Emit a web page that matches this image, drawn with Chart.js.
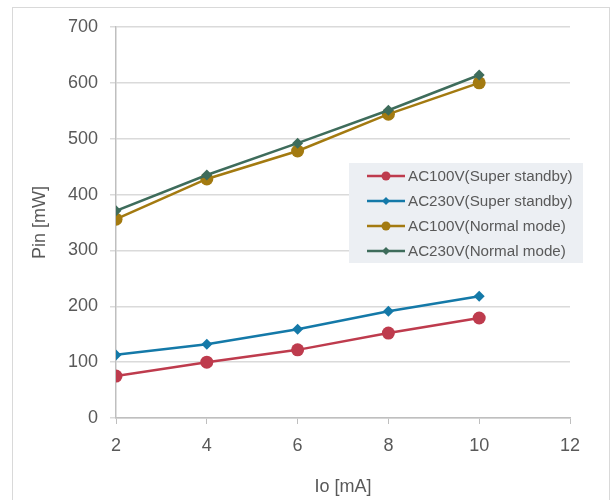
<!DOCTYPE html>
<html>
<head>
<meta charset="utf-8">
<script src="https://cdn.jsdelivr.net/npm/chart.js@4/dist/chart.umd.min.js"></script>
<style>
  html, body { margin: 0; padding: 0; background: #fff; }
  #wrap { position: relative; width: 614px; height: 500px; overflow: hidden; }
  #frame { position: absolute; left: 12px; top: 7px; width: 598px; height: 500px;
           border: 1px solid #d9d9d9; box-sizing: border-box; pointer-events: none; }
  #legend { position: absolute; left: 349px; top: 163px; width: 234px; height: 100px;
            background: #eceff3; box-sizing: border-box; padding-top: 0px;
            font-family: "Liberation Sans", Arial, sans-serif; font-size: 15.2px; color: #595959; }
  .row { height: 25px; display: flex; align-items: center; }
  .row canvas { margin-left: 18px; margin-right: 3px; }
</style>
</head>
<body>
<div id="wrap">
  <canvas id="c" width="614" height="500"></canvas>
  <div id="frame"></div>
  <div id="legend"></div>
</div>
<script>
// Output current (mA) on the horizontal axis
const currentMA = [2, 4, 6, 8, 10];

// Input power (mW) per operating condition
const ac100Standby = [75, 100, 122, 152, 179];
const ac230Standby = [113, 132, 159, 191, 218];
const ac100Normal  = [356, 428, 478, 544, 600];
const ac230Normal  = [371, 435, 492, 551, 614];

const seriesNames = [
  'AC100V(Super standby)',
  'AC230V(Super standby)',
  'AC100V(Normal mode)',
  'AC230V(Normal mode)'
];

const xTicks = [2, 4, 6, 8, 10, 12];
const yTicks = [0, 100, 200, 300, 400, 500, 600, 700];

const colors = ['#be3b4d', '#1479a8', '#a37a10', '#3e6c5b'];
const markers = ['circle', 'rectRot', 'circle', 'rectRot'];
const radii = [6.5, 5.5, 6.5, 5.5];

function toPoints(vals) {
  return currentMA.map((x, i) => ({ x: x, y: vals[i] }));
}

const allSeries = [ac100Standby, ac230Standby, ac100Normal, ac230Normal];

const datasets = allSeries.map((vals, i) => ({
  label: seriesNames[i],
  data: toPoints(vals),
  borderColor: colors[i],
  backgroundColor: colors[i],
  borderWidth: 2.5,
  pointStyle: markers[i],
  pointRadius: radii[i],
  pointBorderWidth: 0,
  pointHoverRadius: radii[i],
  tension: 0,
  order: i === 2 ? 1 : (i === 3 ? 0 : 2)
}));

const tickFont = { family: '"Liberation Sans", Arial, sans-serif', size: 18 };
const gray = '#595959';

const chart = new Chart(document.getElementById('c'), {
  type: 'line',
  data: { datasets: datasets },
  options: {
    responsive: false,
    animation: false,
    events: [],
    layout: { padding: { left: 29, right: 44, top: 27, bottom: 0 } },
    plugins: { legend: { display: false }, tooltip: { enabled: false } },
    scales: {
      x: {
        type: 'linear',
        min: 2, max: 12,
        afterBuildTicks: (s) => { s.ticks = xTicks.map(v => ({ value: v })); },
        afterFit: (s) => { s.height = 82; },
        grid: { drawOnChartArea: false, drawTicks: true, tickLength: 6, color: '#bfbfbf' },
        border: { color: '#bfbfbf', width: 1.5 },
        ticks: { color: gray, font: tickFont, padding: 11, maxRotation: 0 },
        title: { display: true, text: 'Io [mA]', color: gray, font: tickFont, padding: { top: 10, bottom: 2 } }
      },
      y: {
        type: 'linear',
        min: 0, max: 700,
        afterBuildTicks: (s) => { s.ticks = yTicks.map(v => ({ value: v })); },
        afterFit: (s) => { s.width = 87; },
        grid: { color: '#dadada', lineWidth: 1.5, drawTicks: true, tickLength: 6 },
        border: { color: '#bfbfbf', width: 1.5 },
        ticks: { color: gray, font: tickFont, padding: 12 },
        title: { display: true, text: 'Pin [mW]', color: gray, font: tickFont, padding: { top: 0, bottom: 4 } }
      }
    }
  }
});

// Legend panel built from the chart's own datasets
const legend = document.getElementById('legend');
chart.data.datasets.forEach((ds) => {
  const row = document.createElement('div');
  row.className = 'row';
  const sw = document.createElement('canvas');
  sw.width = 38; sw.height = 14;
  const g = sw.getContext('2d');
  g.strokeStyle = ds.borderColor; g.lineWidth = 2.5;
  g.beginPath(); g.moveTo(0, 7); g.lineTo(38, 7); g.stroke();
  g.fillStyle = ds.backgroundColor;
  if (ds.pointStyle === 'circle') {
    g.beginPath(); g.arc(19, 7, 4.5, 0, Math.PI * 2); g.fill();
  } else {
    g.beginPath(); g.moveTo(19, 3); g.lineTo(23, 7); g.lineTo(19, 11); g.lineTo(15, 7); g.closePath(); g.fill();
  }
  const txt = document.createElement('span');
  txt.textContent = ds.label;
  row.appendChild(sw); row.appendChild(txt);
  legend.appendChild(row);
});
</script>
</body>
</html>
